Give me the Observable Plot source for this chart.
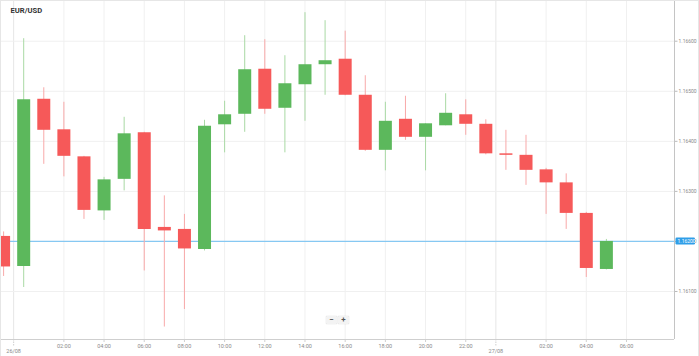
<!DOCTYPE html>
<html><head><meta charset="utf-8">
<script src="https://cdn.jsdelivr.net/npm/d3@7"></script>
<script src="https://cdn.jsdelivr.net/npm/@observablehq/plot@0.6"></script>
<style>
html,body{margin:0;padding:0;background:#fff;}
#wrap{position:relative;width:699px;height:356px;overflow:hidden;font-family:Roboto,"Liberation Sans",sans-serif;}
#border{position:absolute;left:0;top:0;width:699px;height:356px;box-sizing:border-box;border:1px solid #e6e6e6;border-bottom:none;pointer-events:none;}
.zbtn{position:absolute;top:316px;height:8px;width:11px;background:#f3f3f3;border-radius:1px;box-shadow:0 0 1px #bbb;font-size:8px;line-height:8px;text-align:center;color:#555;font-weight:bold;}
</style></head>
<body><div id="wrap"></div>
<script>
// Hourly candles (UTC)
const times = [
  "2018-08-25T23:00Z",
  "2018-08-26T00:00Z","2018-08-26T01:00Z","2018-08-26T02:00Z","2018-08-26T03:00Z","2018-08-26T04:00Z","2018-08-26T05:00Z",
  "2018-08-26T06:00Z","2018-08-26T07:00Z","2018-08-26T08:00Z","2018-08-26T09:00Z","2018-08-26T10:00Z","2018-08-26T11:00Z",
  "2018-08-26T12:00Z","2018-08-26T13:00Z","2018-08-26T14:00Z","2018-08-26T15:00Z","2018-08-26T16:00Z","2018-08-26T17:00Z",
  "2018-08-26T18:00Z","2018-08-26T19:00Z","2018-08-26T20:00Z","2018-08-26T21:00Z","2018-08-26T22:00Z","2018-08-26T23:00Z",
  "2018-08-27T00:00Z","2018-08-27T01:00Z","2018-08-27T02:00Z","2018-08-27T03:00Z","2018-08-27T04:00Z","2018-08-27T05:00Z"
];
const open  = [1.16210,1.16150,1.16484,1.16423,1.16369,1.16261,1.16324,1.16417,1.16228,1.16224,1.16184,1.16433,1.16454,1.16544,1.16466,1.16513,1.16553,1.16564,1.16492,1.16382,1.16444,1.16408,1.16431,1.16453,1.16434,1.16375,1.16372,1.16343,1.16317,1.16256,1.16144];
const high  = [1.16219,1.16605,1.16507,1.16478,1.16370,1.16328,1.16448,1.16418,1.16291,1.16254,1.16442,1.16480,1.16611,1.16603,1.16571,1.16657,1.16641,1.16620,1.16531,1.16478,1.16490,1.16435,1.16495,1.16483,1.16443,1.16422,1.16412,1.16346,1.16335,1.16258,1.16204];
const low   = [1.16130,1.16108,1.16354,1.16329,1.16244,1.16242,1.16301,1.16141,1.16029,1.16064,1.16181,1.16377,1.16418,1.16454,1.16377,1.16440,1.16492,1.16491,1.16380,1.16341,1.16402,1.16341,1.16431,1.16412,1.16373,1.16342,1.16312,1.16254,1.16224,1.16128,1.16143];
const close = [1.16149,1.16483,1.16422,1.16370,1.16262,1.16323,1.16415,1.16224,1.16221,1.16185,1.16430,1.16453,1.16543,1.16464,1.16515,1.16553,1.16561,1.16492,1.16382,1.16440,1.16408,1.16435,1.16456,1.16434,1.16375,1.16372,1.16342,1.16317,1.16256,1.16146,1.16200];

const yTicks = [1.161,1.162,1.163,1.164,1.165,1.166];
const hourTicks = [
  "2018-08-26T02:00Z","2018-08-26T04:00Z","2018-08-26T06:00Z","2018-08-26T08:00Z","2018-08-26T10:00Z","2018-08-26T12:00Z",
  "2018-08-26T14:00Z","2018-08-26T16:00Z","2018-08-26T18:00Z","2018-08-26T20:00Z","2018-08-26T22:00Z",
  "2018-08-27T02:00Z","2018-08-27T04:00Z","2018-08-27T06:00Z"
].map(s => new Date(s));
const dayTicks = ["2018-08-25T23:30Z","2018-08-26T23:30Z"].map(s => new Date(s));
const dayLabels = ["26/08","27/08"];
const currentPrice = 1.16200;
const title = "EUR/USD";

const data = times.map((t, i) => ({t: new Date(t), o: open[i], h: high[i], l: low[i], c: close[i]}));

const xDomain = [new Date("2018-08-25T22:50:45Z"), new Date("2018-08-27T08:23:24Z")];
const yDomain = [1.160041, 1.166813];

const RED = "#f65959", GREEN = "#5cb85c";
const RED_W = "#f8a9a9", GREEN_W = "#a9d9a4";
const fmtTime = d3.utcFormat("%H:%M");

const chart = Plot.plot({
  width: 699, height: 356,
  marginLeft: 0, marginRight: 25, marginTop: 0, marginBottom: 17,
  style: {fontFamily: "Roboto, 'Liberation Sans', sans-serif", background: "transparent"},
  x: {type: "utc", domain: xDomain, axis: null, label: null},
  y: {domain: yDomain, axis: null, label: null},
  marks: [
    Plot.gridX(hourTicks, {stroke: "#f0f0f0", strokeOpacity: 1}),
    Plot.gridX(dayTicks, {stroke: "#e6e6e6", strokeOpacity: 1}),
    Plot.gridY(yTicks, {stroke: "#f0f0f0", strokeOpacity: 1}),
    Plot.ruleY([currentPrice], {stroke: "#86c8f2", strokeWidth: 1.2}),
    Plot.ruleX(data, {x: "t", y1: "l", y2: "h", stroke: d => d.c >= d.o ? GREEN_W : RED_W, strokeWidth: 1, clip: true}),
    Plot.ruleX(data, {x: "t", y1: "o", y2: "c", stroke: d => d.c >= d.o ? GREEN : RED, strokeWidth: 13, clip: true}),
    Plot.ruleY([yDomain[0]], {stroke: "#cfcfcf"}),
    Plot.ruleX([xDomain[1]], {stroke: "#c4c4c4"}),
    Plot.axisX(hourTicks, {tickFormat: fmtTime, tickSize: 3, tickPadding: 1.5, fontSize: 5.5, color: "#8a8a8a", stroke: "#cfcfcf", label: null}),
    Plot.axisX(dayTicks, {tickFormat: (d, i) => dayLabels[i], tickSize: 7, tickPadding: 3, fontSize: 5.5, color: "#8a8a8a", stroke: "#cfcfcf", strokeDasharray: "1.5,1", label: null}),
    Plot.axisY(yTicks, {anchor: "right", tickFormat: d3.format(".5f"), tickSize: 2.5, tickPadding: 1.5, fontSize: 5, color: "#8a8a8a", stroke: "#bbb", label: null}),
    Plot.rect([currentPrice], {x1: xDomain[1], x2: xDomain[1], y1: d => d, y2: d => d,
      insetLeft: 1.5, insetRight: -21, insetTop: -3.5, insetBottom: -3.5, rx: 1.2, fill: "#2f9ee8"}),
    Plot.text([currentPrice], {x: xDomain[1], y: d => d, text: d => d3.format(".5f")(d), dx: 3, textAnchor: "start", fontSize: 5, fill: "white"}),
    Plot.text([title], {frameAnchor: "top-left", dx: 10, dy: 7.5, fontWeight: "bold", fontSize: 7.6, fill: "#333"})
  ]
});

const wrap = document.getElementById("wrap");
wrap.appendChild(chart);
const b = document.createElement("div"); b.id = "border"; wrap.appendChild(b);
const m = document.createElement("div"); m.className = "zbtn"; m.style.left = "326px"; m.textContent = "−"; wrap.appendChild(m);
const p = document.createElement("div"); p.className = "zbtn"; p.style.left = "338px"; p.textContent = "+"; wrap.appendChild(p);
</script>
</body></html>
